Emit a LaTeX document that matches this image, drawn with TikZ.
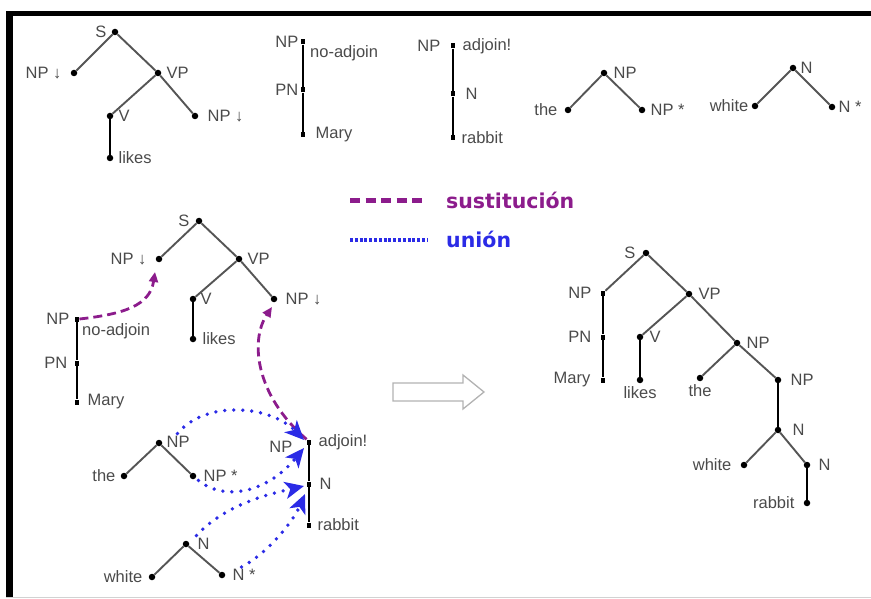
\documentclass[tikz,border=0pt]{standalone}
\usepackage{fontspec}
\setmainfont{Liberation Sans}
\newfontfamily\legfont{DejaVu Sans}
\usetikzlibrary{arrows.meta}
\definecolor{lblgray}{HTML}{4A4A4A}
\definecolor{edgegray}{HTML}{555555}
\definecolor{subpurple}{HTML}{8C1C8C}
\definecolor{adjblue}{HTML}{2B2BE6}
\begin{document}
\begin{tikzpicture}[x=1pt,y=-1pt,
 dot/.style={circle,fill=black,inner sep=0pt,minimum size=6.5pt},
 sdot/.style={rectangle,fill=black,inner sep=0pt,minimum width=4.5pt,minimum height=5pt},
 every label/.style={text=lblgray,font=\fontsize{16.5}{19}\selectfont,inner sep=0pt},
 label distance=5pt,
 lbl/.style={text=lblgray,font=\fontsize{16.5}{19}\selectfont,inner sep=0pt},
 br/.style={draw=edgegray,line width=1.9pt},
 st/.style={draw=black,line width=2.5pt},
 subst/.style={draw=subpurple,line width=2.8pt,dash pattern=on 9pt off 5pt,-{Triangle[length=10pt,width=9pt]}},
 adj/.style={draw=adjblue,line width=3.8pt,line cap=round,dash pattern=on 0pt off 9pt,-{Stealth[length=19pt,width=17pt,inset=5pt]}},
 leg/.style={font=\legfont\bfseries\fontsize{20.5}{24}\selectfont,inner sep=0pt,anchor=west},
]
\useasboundingbox (0,0) rectangle (871,599);
% frame
\fill[black] (6,11) rectangle (871,16);
\fill[black] (6,11) rectangle (13,597);
\draw[gray!35,line width=1pt] (6,597.5) -- (871,597.5);

% ---------- top-left elementary tree
\node[dot,label=left:S] (t1S) at (115,32) {};
\node[dot,label={[label distance=9pt]left:NP ↓}] (t1NPa) at (74,73) {};
\node[dot,label=right:VP] (t1VP) at (158,73) {};
\node[dot,label=right:V] (t1V) at (110,116) {};
\node[dot,label={[label distance=9pt]right:NP ↓}] (t1NPb) at (195,116) {};
\node[dot,label=right:likes] (t1likes) at (110,158) {};
\draw[br] (t1S) -- (t1NPa);
\draw[br] (t1S) -- (t1VP);
\draw[br] (t1VP) -- (t1V);
\draw[br] (t1VP) -- (t1NPb);
\draw[st] (t1V) -- (t1likes);

% ---------- Mary tree (top)
\node[sdot,label={[label distance=2pt]left:NP}] (t2NP) at (303,42) {};
\node[sdot,label={[label distance=2pt]left:PN}] (t2PN) at (303,90) {};
\node[sdot,label={[label distance=10pt]right:Mary}] (t2Mary) at (303,135) {};
\node[lbl,anchor=west] (t2na) at (310,53) {no-adjoin};
\draw[st] (t2NP) -- (t2PN) -- (t2Mary);

% ---------- rabbit tree (top)
\node[sdot,label={[label distance=10pt]left:NP},label={[label distance=7pt]right:adjoin!}] (t3NP) at (453,46) {};
\node[sdot,label={[label distance=10pt]right:N}] (t3N) at (453,94) {};
\node[sdot,label={[label distance=6pt]right:rabbit}] (t3rab) at (453,138) {};
\draw[st] (t3NP) -- (t3N) -- (t3rab);

% ---------- the tree (top)
\node[dot,label={[label distance=6pt]right:NP}] (t4NP) at (604,73) {};
\node[dot,label={[label distance=7pt]left:the}] (t4the) at (568,110) {};
\node[dot,label={[label distance=5pt]right:NP *}] (t4NPs) at (642,110) {};
\draw[br] (t4NP) -- (t4the);
\draw[br] (t4NP) -- (t4NPs);

% ---------- white tree (top)
\node[dot,label={[label distance=4pt]right:N}] (t5N) at (793,68) {};
\node[dot,label={[label distance=3pt]left:white}] (t5white) at (755,106) {};
\node[dot,label={[label distance=3pt]right:N *}] (t5Ns) at (832,107) {};
\draw[br] (t5N) -- (t5white);
\draw[br] (t5N) -- (t5Ns);

% ---------- legend
\coordinate (lgA1) at (350,201);
\coordinate (lgA2) at (427,201);
\coordinate (lgB1) at (350,240);
\coordinate (lgB2) at (427,240);
\draw[draw=subpurple,line width=5pt,dash pattern=on 10pt off 5.5pt] (lgA1) -- (lgA2);
\draw[draw=adjblue,line width=4pt,dash pattern=on 3pt off 1.8pt] (lgB1) -- (lgB2);
\node[leg,text=subpurple] (lgsub) at (446,200) {sustitución};
\node[leg,text=adjblue] (lgadj) at (446,239) {unión};

% ---------- middle-left tree
\node[dot,label={[label distance=6pt]left:S}] (mS) at (199,221) {};
\node[dot,label={[label distance=9pt]left:NP ↓}] (mNPa) at (159,259) {};
\node[dot,label=right:VP] (mVP) at (239,259) {};
\node[dot,label={[label distance=4pt]right:V}] (mV) at (193,299) {};
\node[dot,label={[label distance=8pt]right:NP ↓}] (mNPb) at (274,299) {};
\node[dot,label={[label distance=6pt]right:likes}] (mlikes) at (193,339) {};
\draw[br] (mS) -- (mNPa);
\draw[br] (mS) -- (mVP);
\draw[br] (mVP) -- (mV);
\draw[br] (mVP) -- (mNPb);
\draw[st] (mV) -- (mlikes);

% ---------- middle-left Mary tree
\node[sdot,label={[label distance=5pt]left:NP}] (mmNP) at (77,319) {};
\node[sdot,label={[label distance=7pt]left:PN}] (mmPN) at (77,363) {};
\node[sdot,label={[label distance=8pt]right:Mary}] (mmMary) at (77,402) {};
\node[lbl,anchor=west] (mmna) at (82,331) {no-adjoin};
\draw[st] (mmNP) -- (mmPN) -- (mmMary);

% ---------- bottom the tree
\node[dot,label={[label distance=4pt,yshift=1pt]right:NP}] (bNP) at (159,443) {};
\node[dot,label={[label distance=5pt]left:the}] (bthe) at (124,476) {};
\node[dot,label={[label distance=7pt]right:NP *}] (bNPs) at (193,476) {};
\draw[br] (bNP) -- (bthe);
\draw[br] (bNP) -- (bNPs);

% ---------- bottom rabbit tree
\node[sdot,label={[label distance=14pt,yshift=-5pt]left:NP},label={[label distance=7pt]right:adjoin!}] (bAdj) at (309,442) {};
\node[sdot,label={[label distance=8pt]right:N}] (bAN) at (309,484) {};
\node[sdot,label={[label distance=6pt]right:rabbit}] (bArab) at (309,525) {};
\draw[black,line width=1.7pt] (bAdj) -- (bAN) -- (bArab);

% ---------- bottom white tree
\node[dot,label={[label distance=8pt]right:N}] (bwN) at (186,544) {};
\node[dot,label={[label distance=6pt]left:white}] (bwwhite) at (152,577) {};
\node[dot,label={[label distance=7pt]right:N *}] (bwNs) at (222,575) {};
\draw[br] (bwN) -- (bwwhite);
\draw[br] (bwN) -- (bwNs);

% ---------- substitution arrows
\coordinate (subA) at (155,272);
\coordinate (subB) at (272,307);
\draw[subst] (mmNP.east) .. controls (125,314) and (150,305) .. (subA);
\draw[subst] (bAdj.north west) .. controls (255,395) and (250,340) .. (subB);

% ---------- adjunction arrows
\coordinate (adjA) at (304,440);
\coordinate (adjB) at (304,448);
\coordinate (adjC) at (304,486);
\coordinate (adjD) at (305,494);
\draw[adj] (bNP.north east) ++(16,-7) .. controls (205,400) and (270,405) .. (adjA);
\draw[adj] (bNPs.south east) ++(3,2) .. controls (225,502) and (268,492) .. (adjB);
\draw[adj] (bwN.north east) ++(8,-6) .. controls (225,505) and (265,495) .. (adjC);
\draw[adj] (bwNs.east) ++(16,-8) .. controls (265,555) and (292,524) .. (adjD);

% ---------- big hollow arrow
\draw[gray!60,line width=1.3pt,line join=miter] (393,383) coordinate (haL) -- (463,383) -- (463,375) -- (484,392) coordinate (haT) -- (463,409) -- (463,401) -- (393,401) -- cycle;

% ---------- derived tree (right)
\node[dot,label={[label distance=7pt]left:S}] (rS) at (646,253) {};
\node[sdot,label={[label distance=9pt]left:NP}] (rNP) at (603,293) {};
\node[sdot,label={[label distance=9pt]left:PN}] (rPN) at (603,337) {};
\node[sdot,label={[label distance=10pt]left:Mary}] (rMary) at (603,380) {};
\node[dot,label={[label distance=6pt]right:VP}] (rVP) at (689,294) {};
\node[dot,label={[label distance=6pt]right:V}] (rV) at (640,337) {};
\node[dot,label={[label distance=3pt]below:likes}] (rlikes) at (640,380) {};
\node[dot,label={[label distance=6pt]right:NP}] (rNP2) at (737,343) {};
\node[dot,label={[label distance=3pt]below:the}] (rthe) at (700,378) {};
\node[dot,label={[label distance=9pt]right:NP}] (rNP3) at (778,380) {};
\node[dot,label={[label distance=11pt]right:N}] (rN) at (778,430) {};
\node[dot,label={[label distance=9pt]left:white}] (rwhite) at (744,465) {};
\node[dot,label={[label distance=8pt]right:N}] (rN2) at (807,465) {};
\node[dot,label={[label distance=9pt]left:rabbit}] (rrab) at (807,503) {};
\draw[br] (rS) -- (rNP);
\draw[br] (rS) -- (rVP);
\draw[st] (rNP) -- (rPN) -- (rMary);
\draw[br] (rVP) -- (rV);
\draw[st] (rV) -- (rlikes);
\draw[br] (rVP) -- (rNP2);
\draw[br] (rNP2) -- (rthe);
\draw[br] (rNP2) -- (rNP3);
\draw[st] (rNP3) -- (rN);
\draw[br] (rN) -- (rwhite);
\draw[br] (rN) -- (rN2);
\draw[st] (rN2) -- (rrab);
\end{tikzpicture}
\end{document}
